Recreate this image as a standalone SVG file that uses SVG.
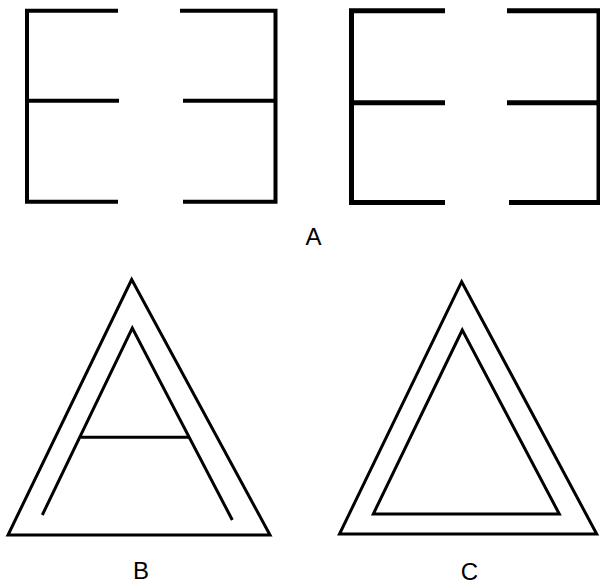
<svg xmlns="http://www.w3.org/2000/svg" width="600" height="586" viewBox="0 0 600 586">
<style>
.s{fill:none;stroke:#000;stroke-linejoin:miter;stroke-linecap:butt}
.e1{stroke-width:4}
.e2{stroke-width:5}
.t{stroke-width:3;stroke-linejoin:miter;stroke-miterlimit:20}
.lbl{font-family:"Liberation Sans",Arial,sans-serif;font-size:24px;fill:#000;text-anchor:middle}
</style>
<rect width="600" height="586" fill="#fff"/>
<g id="E1">
<polyline class="s e1" points="118,10.7 27,10.7 27,201.7 118,201.7"/>
<line class="s e1" x1="27" y1="100.7" x2="119" y2="100.7"/>
</g>
<g id="E2">
<polyline class="s e1" points="180,10.7 275.5,10.7 275.5,201.7 183,201.7"/>
<line class="s e1" x1="183" y1="100.7" x2="275.5" y2="100.7"/>
</g>
<g id="E3">
<polyline class="s e2" points="445,10.8 351.5,10.8 351.5,202.5 445,202.5"/>
<line class="s e2" x1="351.5" y1="102.7" x2="445" y2="102.7"/>
</g>
<g id="E4">
<polyline class="s e2" points="507,10.8 599,10.8 599,202.5 509,202.5"/>
<line class="s e2" x1="507" y1="102.7" x2="599" y2="102.7"/>
</g>
<text class="lbl" x="313.5" y="245">A</text>
<g id="B">
<polygon class="s t" points="131.7,279.5 8,535 270,535"/>
<polyline class="s t" points="42.3,515 132.3,328 232.3,520"/>
<line class="s t" x1="81" y1="437.3" x2="190" y2="437.3"/>
</g>
<text class="lbl" x="141" y="579">B</text>
<g id="C">
<polygon class="s t" points="461.7,281.7 339.5,534 596.7,534"/>
<polygon class="s t" points="462.3,330 373.3,514 559.3,514"/>
</g>
<text class="lbl" x="469.5" y="580">C</text>
</svg>
